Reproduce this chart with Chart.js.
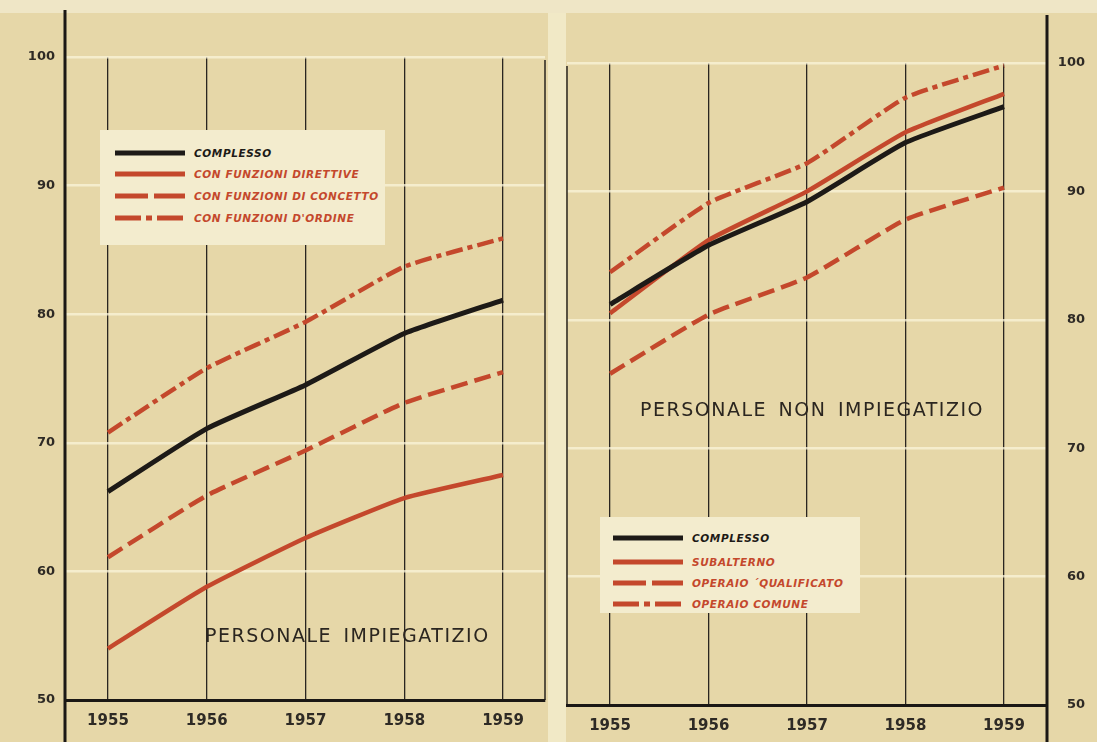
<!DOCTYPE html>
<html>
<head>
<meta charset="utf-8">
<script src="https://cdn.jsdelivr.net/npm/chart.js@4"></script>
<style>
  body { margin: 0; background: #e6d7a8; width: 1097px; height: 742px; overflow: hidden; position: relative; font-family: "DejaVu Sans", sans-serif; }
  .topband { position: absolute; left: 0; top: 0; width: 1097px; height: 13px; background: #efe6c6; }
  .strip { position: absolute; left: 548px; top: 13px; width: 18px; height: 729px; background: #f1e9c6; }
  .panel { position: absolute; top: 0; height: 742px; }
  .legend { position: absolute; background: #f3ecce; }
  .legend .row { position: absolute; display: flex; align-items: center; height: 14px; }
  .legend .row span { font: italic bold 10.5px "DejaVu Sans", sans-serif; letter-spacing: 0.6px; margin-left: 9px; white-space: nowrap; }
  .title { position: absolute; font: 19px "DejaVu Sans", sans-serif; color: #2b2620; letter-spacing: 1.5px; word-spacing: 4px; white-space: nowrap; }
</style>
</head>
<body>
<div class="topband"></div>
<div class="strip"></div>
<div class="panel" style="left:0;width:560px"><canvas id="left"></canvas></div>
<div class="panel" style="left:548px;width:549px"><canvas id="right"></canvas></div>
<div class="title" style="left:205px;top:624px">PERSONALE IMPIEGATIZIO</div>
<div class="title" style="left:640px;top:398px">PERSONALE NON IMPIEGATIZIO</div>
<div class="legend" id="legLeft" style="left:100px;top:130px;width:285px;height:115px"></div>
<div class="legend" id="legRight" style="left:600px;top:517px;width:260px;height:96px"></div>
<script>
// data (index values)
const years = [1955, 1956, 1957, 1958, 1959];
const yTicks = [50, 60, 70, 80, 90, 100];

const impNames = ["COMPLESSO", "CON FUNZIONI DIRETTIVE", "CON FUNZIONI DI CONCETTO", "CON FUNZIONI D'ORDINE"];
const impComplesso = [66.2, 71.1, 74.5, 78.5, 81.1];
const impDirettive = [54.0, 58.8, 62.6, 65.7, 67.5];
const impConcetto = [61.1, 65.9, 69.4, 73.1, 75.5];
const impOrdine = [70.8, 75.8, 79.4, 83.7, 85.9];

const nonNames = ["COMPLESSO", "SUBALTERNO", "OPERAIO \u00B4QUALIFICATO", "OPERAIO COMUNE"];
const nonComplesso = [81.2, 85.8, 89.2, 93.8, 96.6];
const nonSubalterno = [80.5, 86.2, 90.0, 94.6, 97.6];
const nonQualificato = [75.8, 80.4, 83.3, 87.8, 90.3];
const nonComune = [83.7, 89.1, 92.2, 97.3, 99.8];

const BLACK = '#1d1a17';
const RED = '#c4482c';
const dashes = [[], [], [17, 7], [17, 5, 5, 5]];
const legendDashes = ['none', 'none', '33 6', '26 5 6 5'];
const colors = [BLACK, RED, RED, RED];

function makeSets(names, series) {
  return series.map((vals, i) => ({
    label: names[i],
    data: vals.map((v, j) => ({ x: years[j], y: v })),
    borderColor: colors[i],
    borderWidth: i === 0 ? 5 : 4.5,
    borderDash: dashes[i],
    borderCapStyle: 'butt',
    pointRadius: 0,
    tension: 0.15,
    fill: false
  }));
}

// axis lines that run past the plot area, like the printed frame
const framePlugin = {
  id: 'frame',
  afterDraw(chart, args, o) {
    const c = chart.ctx, a = chart.chartArea;
    c.save();
    c.strokeStyle = '#1b1815';
    c.lineWidth = 3;
    c.beginPath();
    c.moveTo(o.axisX, o.axisTop);
    c.lineTo(o.axisX, 742);
    c.stroke();
    c.lineWidth = 1.4;
    c.beginPath();
    c.moveTo(o.edgeX, a.top + 3);
    c.lineTo(o.edgeX, a.bottom);
    c.stroke();
    c.restore();
  }
};

function makeChart(id, names, series, side, xmin, xmax, geo) {
  return new Chart(document.getElementById(id), {
    type: 'line',
    data: { datasets: makeSets(names, series) },
    plugins: [framePlugin],
    options: {
      responsive: true,
      maintainAspectRatio: false,
      animation: false,
      layout: { padding: { top: geo.top, left: geo.padL, right: geo.padR, bottom: 0 } },
      plugins: {
        legend: { display: false },
        tooltip: { enabled: false },
        frame: geo.frame
      },
      scales: {
        x: {
          type: 'linear',
          min: xmin,
          max: xmax,
          afterBuildTicks: s => { s.ticks = years.map(v => ({ value: v })); },
          afterFit: s => { s.height = geo.xh; },
          grid: { color: '#2a2520', lineWidth: 1.3, drawTicks: false },
          border: { display: true, color: '#1b1815', width: 3 },
          ticks: {
            padding: 12,
            color: '#2e2a25',
            font: { family: 'DejaVu Sans', weight: 'bold', size: 15 },
            callback: v => String(v)
          }
        },
        y: {
          position: side,
          min: 50,
          max: 100,
          afterBuildTicks: s => { s.ticks = yTicks.map(v => ({ value: v })); },
          afterFit: s => { s.width = geo.yw; },
          grid: { color: 'rgba(250,244,218,0.75)', lineWidth: 2.5, drawTicks: false },
          border: { display: false },
          ticks: {
            padding: geo.ypad,
            crossAlign: side === 'right' ? 'far' : 'near',
            color: '#2e2a25',
            font: { family: 'DejaVu Sans', weight: 'bold', size: 13 }
          }
        }
      }
    }
  });
}

makeChart('left', impNames, [impComplesso, impDirettive, impConcetto, impOrdine], 'left',
  1954.565, 1959.425,
  { top: 57, padL: 0, padR: 15, xh: 42, yw: 65, ypad: 10, frame: { axisX: 65, axisTop: 10, edgeX: 545 } });

makeChart('right', nonNames, [nonComplesso, nonSubalterno, nonQualificato, nonComune], 'right',
  1954.563, 1959.437,
  { top: 63, padL: 19, padR: 12, xh: 37, yw: 38, ypad: 12, frame: { axisX: 499, axisTop: 15, edgeX: 19 } });

function buildLegend(el, names, rowTops, sampleLeft) {
  names.forEach((n, i) => {
    const row = document.createElement('div');
    row.className = 'row';
    row.style.top = rowTops[i] + 'px';
    row.style.left = sampleLeft + 'px';
    row.innerHTML = '<svg width="70" height="8"><line x1="0" y1="4" x2="70" y2="4" stroke="' + colors[i] +
      '" stroke-width="5" stroke-dasharray="' + legendDashes[i] + '"/></svg>';
    const t = document.createElement('span');
    t.textContent = n;
    t.style.color = i === 0 ? BLACK : RED;
    row.appendChild(t);
    el.appendChild(row);
  });
}
buildLegend(document.getElementById('legLeft'), impNames, [16, 37, 59, 81], 15);
buildLegend(document.getElementById('legRight'), nonNames, [14, 38, 59, 80], 13);
</script>
</body>
</html>
